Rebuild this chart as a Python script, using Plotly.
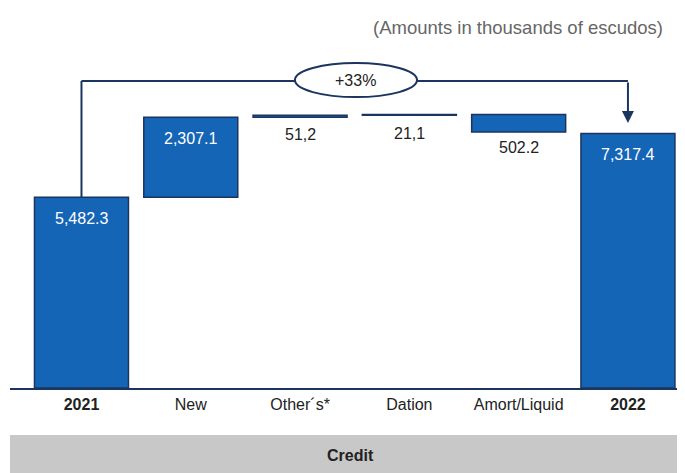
import plotly.graph_objects as go

# Credit portfolio movement 2021 -> 2022 (thousands of escudos)
categories = ['2021', 'New', 'Other´s*', 'Dation', 'Amort/Liquid', '2022']
tick_text = ['<b>2021</b>', 'New', 'Other´s*', 'Dation', 'Amort/Liquid', '<b>2022</b>']
values = [5482.3, 2307.1, 51.2, 21.1, -502.2, 7317.4]
labels = ['5,482.3', '2,307.1', '51,2', '21,1', '502.2', '7,317.4']
measures = ['absolute', 'relative', 'relative', 'relative', 'relative', 'absolute']
growth_label = '+33%'

BLUE = '#1565b7'
NAVY = '#1b355f'

# floating bar bases built from the running total
bases, heights = [], []
running = 0
for v, m in zip(values, measures):
    if m == 'absolute':
        bases.append(0)
        heights.append(v)
        running = v
    else:
        if v >= 0:
            bases.append(running)
            heights.append(v)
        else:
            bases.append(running + v)
            heights.append(-v)
        running += v

x = list(range(len(categories)))

fig = go.Figure(go.Bar(
    x=x, y=heights, base=bases, width=0.86,
    marker=dict(color=BLUE, line=dict(color=NAVY, width=1.5)),
    hoverinfo='skip'))

# value labels: white inside the big bars, dark under the small ones
for i, (b, h, t) in enumerate(zip(bases, heights, labels)):
    top = b + h
    if h > 1000:
        fig.add_annotation(x=i, y=top, text=t, showarrow=False, yanchor='middle',
                           yshift=-21, font=dict(color='white', size=16))
    elif values[i] < 0:
        fig.add_annotation(x=i, y=b, text=t, showarrow=False, yanchor='middle',
                           yshift=-15, font=dict(color='#222222', size=16))
    else:
        fig.add_annotation(x=i, y=top, text=t, showarrow=False, yanchor='middle',
                           yshift=-19, font=dict(color='#222222', size=16))

# growth bracket from 2021 to 2022
bracket_y = 8830
fig.add_shape(type='line', x0=0, x1=0, y0=values[0], y1=bracket_y,
              line=dict(color=NAVY, width=2))
fig.add_shape(type='line', x0=0, x1=1.96, y0=bracket_y, y1=bracket_y,
              line=dict(color=NAVY, width=2))
fig.add_shape(type='line', x0=3.06, x1=5, y0=bracket_y, y1=bracket_y,
              line=dict(color=NAVY, width=2))
fig.add_shape(type='circle', x0=1.953, x1=3.07, y0=8366, y1=9344,
              line=dict(color=NAVY, width=2), fillcolor='white')
fig.add_annotation(x=2.51, y=8855, text=growth_label, showarrow=False,
                   font=dict(color='#222222', size=16))
fig.add_annotation(x=5, y=values[5] + 300, ax=5, ay=bracket_y, axref='x', ayref='y',
                   xref='x', yref='y', text='', showarrow=True, arrowhead=2,
                   arrowsize=1.2, arrowwidth=2, arrowcolor=NAVY)

# grey footer band with "Credit"
fig.add_shape(type='rect', xref='paper', yref='paper', x0=0, x1=1, y0=-0.2515, y1=-0.139,
              fillcolor='#c8c8c8', line=dict(width=0), layer='below')
fig.add_annotation(xref='paper', yref='paper', x=0.504, y=-0.2, text='<b>Credit</b>',
                   showarrow=False, yanchor='middle', font=dict(color='#222222', size=16))

fig.add_annotation(xref='paper', yref='paper', x=0.97, y=1.068, xanchor='right',
                   yanchor='middle', text='(Amounts in thousands of escudos)',
                   showarrow=False, font=dict(color='#666666', size=18.5))

# the page body adds an 8px offset, so the figure is 8px smaller each way
fig.update_layout(
    width=677, height=465,
    margin=dict(l=2, r=0, t=42, b=85),
    paper_bgcolor='white', plot_bgcolor='white',
    showlegend=False,
    font=dict(family='Liberation Sans, Arial, sans-serif', size=16, color='#222222'),
    xaxis=dict(range=[-0.654, 5.522], tickvals=x, ticktext=tick_text,
               showline=True, linecolor=NAVY, linewidth=2, showgrid=False,
               ticks='', zeroline=False, ticklabelstandoff=1,
               tickfont=dict(size=16, color='#222222')),
    yaxis=dict(range=[0, 9720], visible=False, showgrid=False, zeroline=False),
)

fig.write_html("out.html")
